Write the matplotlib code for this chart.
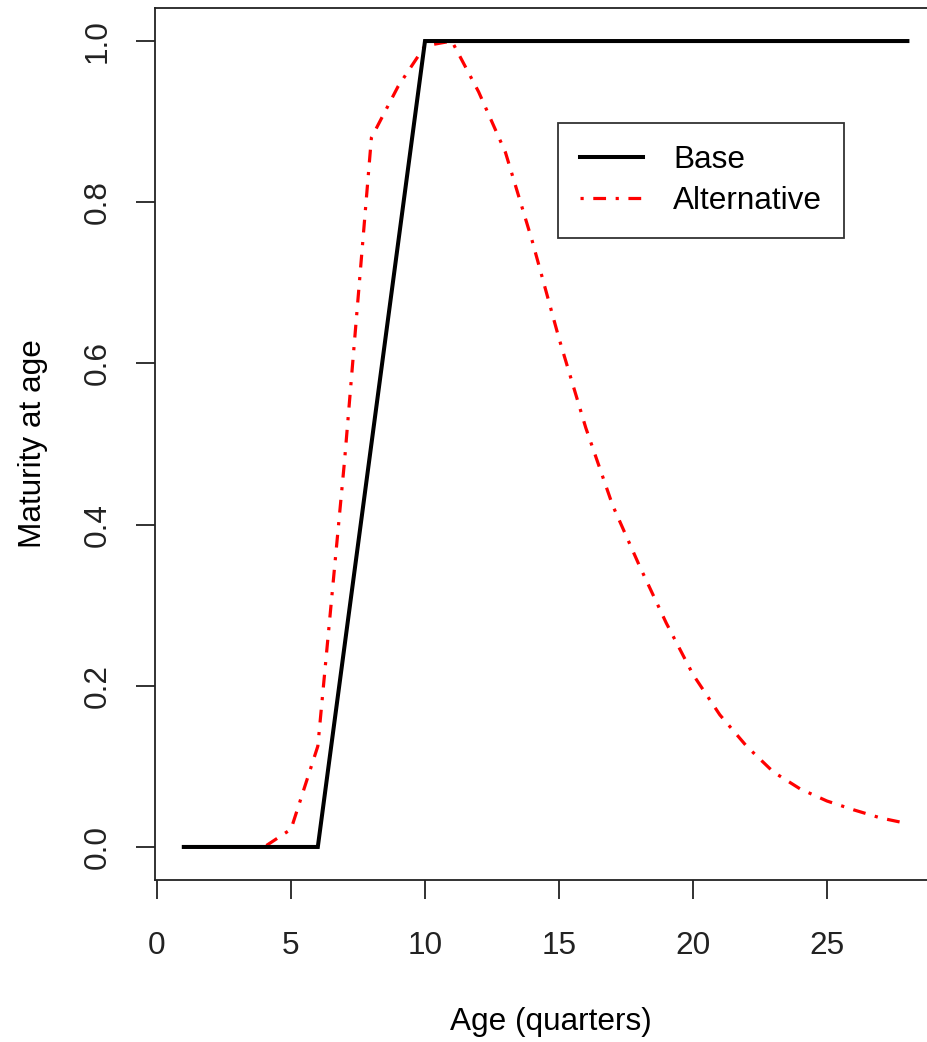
import matplotlib
matplotlib.use("Agg")
import matplotlib.pyplot as plt

# ages in quarters
ages = list(range(1, 29))

# base maturity schedule
base = [0, 0, 0, 0, 0, 0, 0.25, 0.5, 0.75, 1.0,
        1, 1, 1, 1, 1, 1, 1, 1, 1, 1,
        1, 1, 1, 1, 1, 1, 1, 1]

# alternative maturity schedule
alternative = [0, 0, 0, 0, 0.022, 0.125, 0.48, 0.88, 0.944, 0.994,
               1.0, 0.937, 0.862, 0.752, 0.631, 0.520, 0.424, 0.349, 0.278, 0.214,
               0.164, 0.125, 0.093, 0.072, 0.057, 0.046, 0.036, 0.029]

xticks = [0, 5, 10, 15, 20, 25]
yticks = [0.0, 0.2, 0.4, 0.6, 0.8, 1.0]

plt.rcParams['font.family'] = ['Liberation Sans', 'DejaVu Sans']
fs = 22.7

fig = plt.figure(figsize=(9.28, 10.42), dpi=100)
W, H = 928, 1042
ax = fig.add_axes([155 / W, (1042 - 880) / H, 792.6 / W, 872 / H])

# black drawn on top so the flat part of the red curve is hidden, as in R
ax.plot(ages, base, color='black', lw=2.9, solid_joinstyle='miter',
        label='Base', zorder=3)
ax.plot(ages, alternative, color='red', lw=2.3, linestyle=(0, (1, 3, 4, 3)),
        label='Alternative', zorder=2)

ax.set_xlim(-0.075, 29.5)
ax.set_ylim(-0.041, 1.041)
ax.set_xticks(xticks)
ax.set_xticklabels([str(t) for t in xticks])
ax.set_yticks(yticks)
ax.set_yticklabels([f"{t:.1f}" for t in yticks], rotation=90, va='center')

ax.tick_params(axis='both', direction='out', length=13.5, width=1.3,
               labelsize=fs, colors='#222222')
ax.tick_params(axis='x', pad=23)
ax.tick_params(axis='y', pad=17)
for s in ax.spines.values():
    s.set_linewidth(1.3)
    s.set_color('#222222')

ax.set_xlabel('Age (quarters)', fontsize=fs, labelpad=33)
ax.set_ylabel('Maturity at age', fontsize=fs, labelpad=25)

leg = ax.legend(loc='upper left', bbox_to_anchor=(558 / W, 1 - 123 / H),
                bbox_transform=fig.transFigure, borderaxespad=0,
                fontsize=fs, frameon=True, fancybox=False, edgecolor='black',
                handlelength=2.0, handletextpad=0.95, labelspacing=0.35,
                borderpad=0.7)
leg.get_frame().set_linewidth(1.3)

fig.savefig('out.png', dpi=100)
